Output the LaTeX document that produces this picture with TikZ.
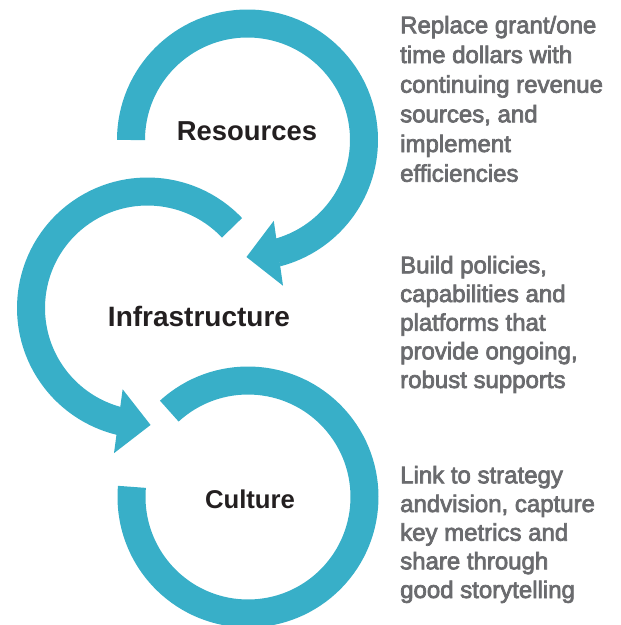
\documentclass[tikz,border=0pt]{standalone}
\usepackage{fontspec}
\setmainfont{Liberation Sans}
\newfontfamily\medfont{Liberation Sans}[FakeBold=3]
\usetikzlibrary{calc}
\definecolor{ringteal}{RGB}{56,175,200}
\definecolor{sidegray}{RGB}{106,107,110}
\definecolor{labelblack}{RGB}{35,31,32}
\begin{document}
\begin{tikzpicture}[x=1pt,y=1pt,
  ring/.style={draw=ringteal,line width=28pt,line cap=butt},
  head/.style={fill=ringteal},
  lbl/.style={anchor=base,inner sep=0pt,text=labelblack,font=\bfseries\fontsize{#1}{#1}\selectfont},
  side/.style={anchor=base west,inner sep=0pt,text=sidegray,font=\medfont\fontsize{24}{28}\selectfont}]
\useasboundingbox (0,0) rectangle (621,-625);
% centres
\coordinate (cR) at (247.5,-140);
\coordinate (cI) at (147.5,-308);
\coordinate (cC) at (248,-497);
% Resources ring
\draw[ring] ($(cR)+(180:116.5)$) arc[start angle=180,end angle=-75.5,radius=116.5];
\fill[head] ($(cR)+(-72:85)$) -- ($(cR)+(-90.5:117)$) -- ($(cR)+(-76.3:150)$) -- cycle;
% Infrastructure ring
\draw[ring] ($(cI)+(43.5:116.5)$) arc[start angle=43.5,end angle=256.5,radius=116.5];
\fill[head] ($(cI)+(253:85)$) -- ($(cI)+(271.5:117)$) -- ($(cI)+(257:149)$) -- cycle;
% Culture ring
\draw[ring] ($(cC)+(132.5:116.5)$) arc[start angle=132.5,end angle=-185,radius=116.5];
% labels
\node[lbl=27.4] (res) at (247,-140) {Resources};
\node[lbl=28] (inf) at (199,-326) {Infrastructure};
\node[lbl=25.7] (cul) at (250,-508) {Culture};
% side texts
\node[side] (a1) at (400,-33.3) {Replace grant/one};
\node[side] (a2) at (400,-63) {time dollars with};
\node[side] (a3) at (400,-92.7) {continuing revenue};
\node[side] (a4) at (400,-122.3) {sources, and};
\node[side] (a5) at (400,-152) {implement};
\node[side] (a6) at (400,-181.7) {efficiencies};
\node[side] (b1) at (400,-273.3) {Build policies,};
\node[side] (b2) at (400,-302) {capabilities and};
\node[side] (b3) at (400,-330.7) {platforms that};
\node[side] (b4) at (400,-359.3) {provide ongoing,};
\node[side] (b5) at (400,-388) {robust supports};
\node[side] (c1) at (400,-483.3) {Link to strategy};
\node[side] (c2) at (400,-512) {andvision, capture};
\node[side] (c3) at (400,-540.7) {key metrics and};
\node[side] (c4) at (400,-569.3) {share through};
\node[side] (c5) at (400,-598) {good storytelling};
\end{tikzpicture}
\end{document}
